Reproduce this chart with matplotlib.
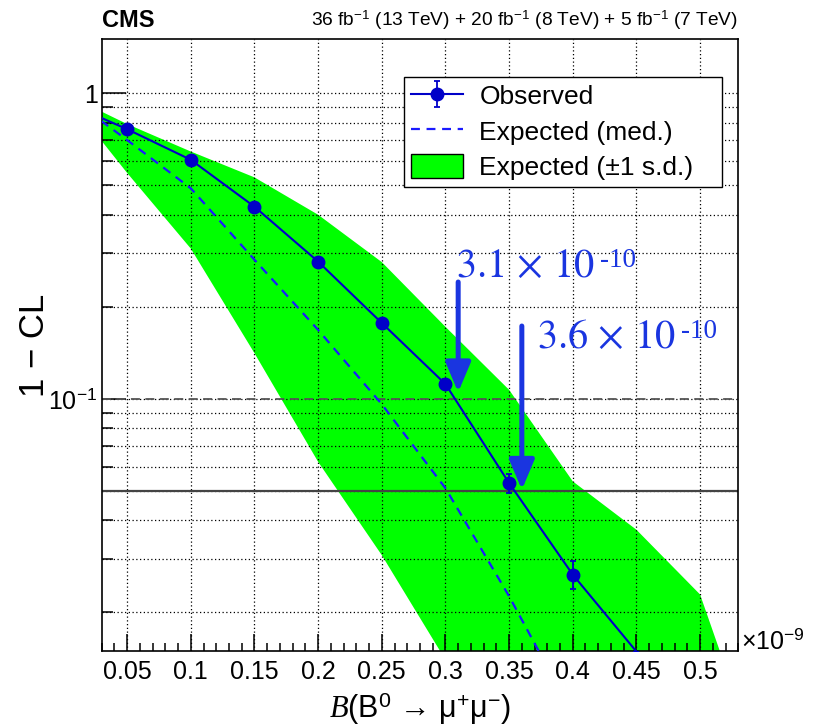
import numpy as np
import matplotlib
matplotlib.use("Agg")
import matplotlib.pyplot as plt
from matplotlib.ticker import FixedLocator, FixedFormatter, NullFormatter

plt.rcParams["font.family"] = ["Liberation Sans", "DejaVu Sans"]
plt.rcParams["mathtext.fontset"] = "custom"
plt.rcParams["mathtext.rm"] = "Liberation Sans"
plt.rcParams["mathtext.it"] = "Liberation Serif:italic"
plt.rcParams["mathtext.bf"] = "Liberation Sans:bold"

# B(B0 -> mumu) in units of 1e-9
BAND_X = [0.0, 0.05, 0.1, 0.15, 0.2, 0.25, 0.3, 0.35, 0.4, 0.45, 0.5, 0.55]
BAND_UP = [1.0, 0.792, 0.644, 0.530, 0.400, 0.280, 0.172, 0.107, 0.0537, 0.0373, 0.0229, 0.0058]
BAND_DN = [1.0, 0.548, 0.310, 0.141, 0.0622, 0.0308, 0.0140, 0.0064, 0.0029, 0.0013, 0.0006, 0.0003]

EXP_X = [0.0, 0.05, 0.1, 0.15, 0.2, 0.25, 0.3, 0.35, 0.4]
EXP_MED = [1.0, 0.702, 0.488, 0.285, 0.168, 0.096, 0.051, 0.0226, 0.0093]

OBS_X = [0.0, 0.05, 0.1, 0.15, 0.2, 0.25, 0.3, 0.35, 0.4, 0.45]
OBS_VAL = [0.94, 0.762, 0.605, 0.425, 0.281, 0.177, 0.1117, 0.053, 0.0266, 0.0149]
OBS_ERR_LO = [0.0, 0.002, 0.002, 0.002, 0.002, 0.002, 0.0037, 0.0037, 0.0028, 0.0]
OBS_ERR_HI = [0.0, 0.002, 0.002, 0.002, 0.002, 0.002, 0.0040, 0.0038, 0.0028, 0.0]

LIMITS = [0.31, 0.36]
LIMIT_CL = [0.1, 0.05]
LIMIT_MANT = ["3.1", "3.6"]

XTICKS = [0.05, 0.1, 0.15, 0.2, 0.25, 0.3, 0.35, 0.4, 0.45, 0.5]
XTICK_LABELS = ["0.05", "0.1", "0.15", "0.2", "0.25", "0.3", "0.35", "0.4", "0.45", "0.5"]
YTICKS = [0.1, 1.0]
YTICK_LABELS = [r"10$^{-1}$", "1"]

XMIN, XMAX = 0.03, 0.53
YMIN, YMAX = 0.015, 1.5

GREEN = "#00ff00"
OBS_BLUE = "#0000c8"
EXP_BLUE = "#1a1aff"
ANN_BLUE = "#1a35e0"


def main():
    fig = plt.figure(figsize=(8.26, 7.27), dpi=100)
    ax = fig.add_axes([0.1231, 0.105, 0.7707, 0.841])

    band = ax.fill_between(BAND_X, BAND_DN, BAND_UP, color=GREEN, lw=0,
                           zorder=1, label="Expected (±1 s.d.)")
    exp_line, = ax.plot(EXP_X, EXP_MED, color=EXP_BLUE, lw=1.6,
                        ls=(0, (4, 3)), zorder=3, label="Expected (med.)")

    obs_val = np.array(OBS_VAL)
    visible = [i for i, v in enumerate(obs_val) if v >= YMIN and OBS_X[i] >= XMIN]
    obs = ax.errorbar(OBS_X, OBS_VAL, yerr=[OBS_ERR_LO, OBS_ERR_HI], fmt="-o",
                      color=OBS_BLUE, lw=1.5, ms=9, markevery=visible,
                      elinewidth=1.3, capsize=2.5, capthick=1.3, zorder=4,
                      label="Observed")

    ax.axhline(0.1, color="#555555", lw=1.3, ls=(0, (5, 3)), zorder=1.6)
    ax.axhline(0.05, color="#444444", lw=1.6, zorder=1.6)

    # arrows + limit labels
    tops = [0.241, 0.173]
    tips = [0.105, 0.0504]
    text_pos = [(0.308, 0.2506), (0.372, 0.1468)]
    for lim, top, tip, (tx, ty), mant in zip(LIMITS, tops, tips, text_pos, LIMIT_MANT):
        ax.annotate("", xy=(lim, tip), xytext=(lim, top),
                    arrowprops=dict(arrowstyle="-|>,head_width=0.38,head_length=0.9",
                                    mutation_scale=20, lw=3.6, color=ANN_BLUE,
                                    shrinkA=0, shrinkB=0), zorder=5)
        main_txt = ax.text(tx, ty, r"$%s\,\times\,10$" % mant, color=ANN_BLUE,
                           fontsize=29, ha="left", va="baseline",
                           math_fontfamily="stix", zorder=5)
        ax.annotate("-10", xy=(1.0, 0.97), xycoords=main_txt,
                    xytext=(4, 0), textcoords="offset points",
                    color=ANN_BLUE, fontsize=19.5, ha="left", va="top",
                    family="Liberation Serif", zorder=5)

    ax.set_xlim(XMIN, XMAX)
    ax.set_yscale("log")
    ax.set_ylim(YMIN, YMAX)

    ax.xaxis.set_major_locator(FixedLocator(XTICKS))
    ax.xaxis.set_major_formatter(FixedFormatter(XTICK_LABELS))
    ax.xaxis.set_minor_locator(FixedLocator(np.arange(0.03, 0.531, 0.01)))
    ax.yaxis.set_major_locator(FixedLocator(YTICKS))
    ax.yaxis.set_major_formatter(FixedFormatter(YTICK_LABELS))
    ax.yaxis.set_minor_locator(FixedLocator([m * d for d in (0.01, 0.1) for m in range(2, 10)]))
    ax.yaxis.set_minor_formatter(NullFormatter())

    ax.set_axisbelow("line")
    ax.grid(which="major", axis="x", ls=(0, (1, 2)), color="black", lw=0.9)
    ax.grid(which="both", axis="y", ls=(0, (1, 2)), color="black", lw=0.9)

    ax.tick_params(which="both", direction="in", top=False, right=False, width=1.1)
    ax.tick_params(axis="x", which="major", length=12, labelsize=18, pad=7)
    ax.tick_params(axis="x", which="minor", length=6)
    ax.tick_params(axis="y", which="major", length=17, labelsize=18, pad=3)
    ax.tick_params(axis="y", which="minor", length=8)
    for s in ax.spines.values():
        s.set_linewidth(1.2)

    ax.set_xlabel(r"$\mathit{B}$(B$^{0}$ → μ$^{+}$μ$^{-}$)", fontsize=22, labelpad=4)
    ax.set_ylabel("1 − CL", fontsize=25)
    ax.yaxis.set_label_coords(-0.08, 0.5)

    ax.text(1.005, -0.006, r"×10$^{-9}$", transform=ax.transAxes, fontsize=18,
            ha="left", va="bottom")
    ax.text(0.0, 1.012, "CMS", transform=ax.transAxes, fontsize=17,
            fontweight="bold", ha="left", va="bottom")
    ax.text(1.0, 1.012, r"36 fb$^{-1}$ (13 TeV) + 20 fb$^{-1}$ (8 TeV) + 5 fb$^{-1}$ (7 TeV)",
            transform=ax.transAxes, fontsize=13.8, ha="right", va="bottom")

    leg = ax.legend([obs, exp_line, band],
                    ["Observed", "Expected (med.)", "Expected (±1 s.d.)"],
                    loc="upper left", bbox_to_anchor=(0.475, 0.7634, 0.5, 0.175),
                    mode="expand", fontsize=19, frameon=True, fancybox=False,
                    framealpha=1, edgecolor="black", handlelength=2.0,
                    handleheight=1.0, handletextpad=0.6, labelspacing=0.36,
                    borderpad=0.25, borderaxespad=0)
    leg.get_frame().set_linewidth(1.0)
    leg.legend_handles[2].set_edgecolor("black")
    leg.legend_handles[2].set_linewidth(1.0)

    fig.savefig("out.png", dpi=100)
    plt.close(fig)


if __name__ == "__main__":
    main()
